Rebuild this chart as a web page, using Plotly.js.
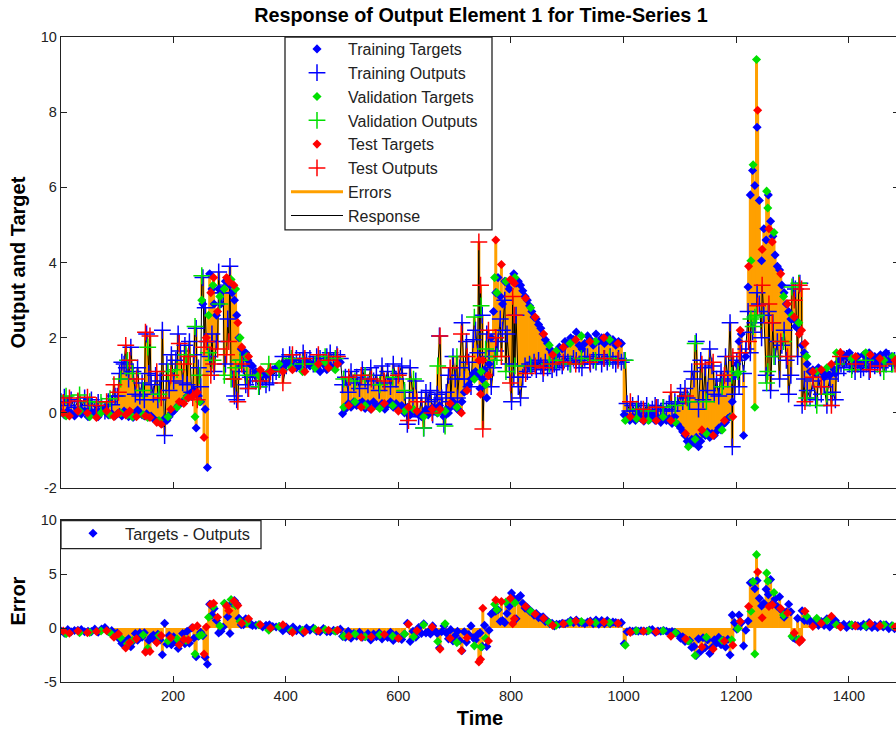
<!DOCTYPE html>
<html><head><meta charset="utf-8">
<script src="https://cdn.plot.ly/plotly-3.0.1.min.js"></script>
<style>html,body{margin:0;padding:0;overflow:hidden;background:#fff}</style>
</head><body><div id="plot" style="width:900px;height:729px"></div>
<script>
const trainTime=[1,7,13,19,25,31,37,43,49,55,61,67,73,79,85,91,97,
101,105,109,113,117,121,125,129,133,137,141,145,149,153,157,161,165,169,173,177,
181,185,189,193,197,201,205,209,213,217,221,225,229,233,237,241,245,249,253,257,
261,265,269,273,277,281,285,289,293,297,301,305,309,313,317,321,325,329,333,337,
341,347,353,359,365,371,377,383,389,395,401,407,413,419,425,431,437,443,449,455,461,467,473,479,485,491,497,
501,506,511,516,521,526,531,536,541,546,551,556,561,566,571,576,581,586,591,596,601,606,611,616,621,626,631,636,
641,645,649,653,657,661,665,669,673,677,681,685,689,693,697,701,705,709,713,717,
721,725,729,733,737,741,745,749,753,757,761,765,769,773,777,781,785,789,793,797,
801,805,809,813,817,821,825,829,833,837,841,845,849,853,857,861,865,869,873,877,
881,886,891,896,901,906,911,916,921,926,931,936,941,946,951,956,961,966,971,976,981,986,991,996,
1001,1006,1011,1016,1021,1026,1031,1036,1041,1046,1051,1056,1061,1066,1071,1076,1081,1086,1091,1096,
1101,1105,1109,1113,1117,1121,1125,1129,1133,1137,1141,1145,1149,1153,1157,1161,1165,1169,1173,1177,
1181,1185,1189,1193,1197,1201,1205,1209,1213,1217,1221,1225,1229,1233,1237,1241,1245,1249,1253,1257,
1261,1265,1269,1273,1277,1281,1285,1289,1293,1297,1301,1305,1309,1313,1317,
1321,1326,1331,1336,1341,1346,1351,1356,1361,1366,1371,1376,1381,1386,1391,1396,1401,1406,1411,1416,1421,1426,1431,1436,1441,1446,1451,1456,1461,1466,1471,1476,1481,1486];
const trainTarget=[0.02,-0.05,0.05,0,-0.08,0.08,-0.03,0.05,-0.1,0.02,0,-0.1,0.08,0.1,-0.05,-0.02,-0.08,
-0.02,0.02,-0.08,0.05,0,-0.1,0.02,-0.12,0,0.08,0,-0.05,-0.08,-0.02,-0.1,-0.08,-0.15,-0.2,-0.22,-0.25,
-0.28,-0.15,-0.2,-0.1,0,0.05,0.12,0.2,0.25,0.3,0.35,0.45,0.5,0.55,0.6,-0.4,0.45,0.3,2.9,0.1,
-1.45,3.7,3.3,2.9,2.6,3.3,2.9,3.3,3.5,3.55,3.4,3.2,3,2.6,2,1.7,1.55,1.6,1.4,1.3,
1.25,1.1,1,1.05,1,1.1,1.15,1.2,1.3,1.25,1.35,1.3,1.4,1.2,1.3,1.15,1.35,1.25,1.3,1.2,1.1,1.3,1.15,1.25,1.2,1.3,1.35,
-0.02,0.1,0.25,0.15,0.3,0.2,0.25,0.3,0.12,0.25,0.1,0.3,0.2,0.15,0.25,0.1,0.22,0.3,0.15,0.25,0.1,0.2,0,0.15,-0.05,0.1,0,-0.05,
-0.1,0,0.1,-0.05,0.05,0.15,0.1,0,0.2,0.05,-0.1,0.1,0,0.15,0.3,0.2,0.1,0.05,0.3,0.55,
0.6,0.75,0.9,1.05,1.1,1,0.65,0.9,1.15,0.4,1.3,2,2.7,3.2,3.6,3.1,2.9,3.5,3.45,3.3,
3.55,3.7,3.45,3.5,3.4,3.25,3.1,3,2.85,2.7,2.55,2.5,2.35,2.25,2.1,1.95,1.85,1.7,1.6,1.5,
1.55,1.75,1.7,1.9,1.85,2,1.95,2.15,1.8,1.7,1.85,2.05,1.95,1.8,2.1,1.9,2,1.85,2.05,1.9,1.95,1.8,1.9,1.85,
-0.05,-0.1,-0.2,-0.1,-0.2,-0.05,-0.15,-0.22,-0.1,-0.18,-0.05,-0.2,-0.12,-0.25,-0.08,-0.2,-0.15,-0.28,-0.1,-0.3,
-0.4,-0.5,-0.6,-0.75,-0.85,-0.7,-0.8,-0.65,-0.9,-0.75,-0.55,-0.6,-0.5,-0.65,-0.55,-0.6,-0.5,-0.4,-0.45,-0.3,
-0.25,-0.15,-0.1,0.3,1,1.3,1.9,2.1,-0.6,1.5,3.35,5.8,6.45,6.05,7.6,5.65,4.05,4.9,4.6,5.8,
5.1,4.7,4.2,3.9,3.8,3.4,3.2,2.9,2.7,2.5,2.5,2.3,2.4,2.2,1.8,
1.6,1.3,1.1,1.15,1.05,1.2,1.1,0.95,1.05,1,1.2,1.05,1.35,1.45,1.55,1.5,1.6,1.45,1.35,1.5,1.3,1.55,1.4,1.6,1.45,1.5,1.35,1.55,1.45,1.6,1.4,1.5,1.35,1.45];
const trainOutput=[0.3,0.42,0.2,0.35,0.15,0.3,0.12,0.4,0.2,0.35,0.1,0.28,0.18,0.05,0.3,0.22,0.45,
0.45,1.05,1.35,1.3,1.2,0.9,1.75,1.1,0.5,1.2,0.45,0.8,0.35,2.1,1.05,0.75,0.5,1,0.35,0.85,
2.2,-0.6,1.3,0.6,1.55,0.85,1.4,2.1,1.65,0.8,1.8,0.75,1.9,0.55,1.55,2.25,1.2,0.7,3.6,2.8,
1.9,1.5,2.1,1.1,1.9,3.75,3.2,3.2,1.3,2.5,3.9,0.9,0.45,0.35,1.1,1.4,1.25,0.75,0.65,0.95,
1,0.85,0.7,0.95,0.75,0.8,1,1.1,1.15,1.5,1.25,1.55,1.3,1.45,1.4,1.6,1.35,1.45,1.3,1.5,1.45,1.35,1.5,1.6,1.4,1.55,1.45,
0.75,0.95,0.55,1.1,0.8,0.95,0.65,1.15,0.9,0.75,1.2,0.85,1,0.6,1.25,0.8,1.1,0.7,1.3,0.9,1.05,1.25,0.55,-0.3,1.2,0.4,0.85,-0.1,
0.4,-0.4,0.55,0.3,0.6,-0.05,0.35,0.5,2.05,0.4,-0.3,0.55,1,0.3,1.5,0.9,0.4,1.2,2.4,0.9,
1.9,1.35,0.7,1.95,2.2,1.6,1.1,2.6,0.9,2.1,1.5,0.7,1.2,1.65,1.9,2.5,2.2,3,2.1,1.3,
0.3,0.95,2.6,0.7,0.4,0.95,1.25,1.1,1.3,1.2,1.35,1.15,1.4,1.25,1.05,1.35,1.2,1.3,1.15,1.3,
1.2,1.4,1.25,1.5,1.35,1.3,1.45,1.4,1.3,1.2,1.45,1.5,1.3,1.4,1.35,1.55,1.3,1.45,1.35,1.5,1.4,1.3,1.45,1.35,
1.4,0.25,0.05,0.2,0.05,0.25,0.1,0.05,0.2,0,0.1,0.2,0.15,0.05,0.15,0.1,0.25,0.05,0.3,0.25,
0.55,0.3,0.65,0.4,0.3,1.1,0.9,1.9,0.1,1.4,0.35,1.2,0.6,1.7,1.25,0.5,0.9,0.45,1.1,0.85,
1.5,0.9,2.4,-0.9,0.5,1.4,0.7,1.6,1.05,1.7,2.7,1.6,2.15,2.4,3.2,2.9,2,2.6,1,2.7,
0.6,2.4,1.5,1.9,0.9,1.8,2.2,1.4,0.5,1,3.4,3.3,1.5,3.45,0.2,
0.9,0.6,0.4,0.85,0.35,0.95,0.5,0.7,0.2,0.9,0.55,0.35,1.05,1.3,1.2,1.45,1.3,1.25,1.1,1.3,1.15,1.2,1.3,1.1,1.4,1.25,1.3,1.2,1.35,1.3,1.45,1.3,1.4,1.25];

const valTime=[10,34,52,72,88,107,119,128,147,155,175,191,207,223,239,247,251,263,271,283,291,303,311,319,331,
352,370,388,410,430,452,470,488,503,523,541,567,590,611,627,645,670,683,704,735,747,755,771,775,791,807,835,868,880,
905,925,950,975,1003,1023,1044,1070,1092,1115,1127,1147,1175,1192,1203,1226,1230,1233,1236,1254,1256,1267,1284,1299,1311,
1325,1343,1361,1378,1405,1430,1462,1478];
const valTarget=[-0.08,0.05,-0.1,0,-0.05,0,-0.05,-0.1,-0.05,-0.12,-0.2,-0.1,0.15,0.4,-0.1,0.3,3,2.6,3.4,3.1,3.3,3.55,3.3,2,1.5,
1,1.1,1.3,1.2,1.1,1.2,1.35,1.15,0.15,0.3,0.2,0.12,0.2,0.05,0.1,-0.1,0,0.05,0.15,0.9,1.1,0.75,3.6,3.2,3.5,3.6,2.8,1.8,1.65,
1.85,2.05,1.9,1.95,-0.2,-0.15,-0.2,-0.1,-0.25,-0.9,-0.7,-0.55,-0.45,-0.1,1.05,4.05,6.6,0.15,9.4,5.9,5.45,4.8,3.1,2.6,2.4,
1.5,1.1,1.2,1.6,1.45,1.6,1.4,1.5];
const valOutput=[0.45,0.48,0.3,0.28,0.38,0.9,1.4,1.05,0.6,1.75,0.5,1.1,1.15,1.55,2.3,1,3.65,1.6,1.4,2.9,1,0.9,1.2,1.4,1,
0.7,1.3,1.15,1.45,1.3,1.3,1.5,1.45,0.9,0.85,1,0.75,0.95,0.6,0.9,-0.4,1.25,-0.35,1.5,2.55,2.85,1.7,1.4,1.5,1.1,1.25,1.25,1.3,1.4,
1.3,1.45,1.4,1.45,1.4,0.1,0.05,0.15,0.2,0.3,1.85,0.3,0.7,1,1.1,2.5,2.3,2.55,2.6,0.8,1.1,1.5,1.9,3.35,3.45,
0.4,0.2,0.5,1.3,1.15,1.4,1.1,1.3];

const testTime=[5,16,31,48,64,82,95,103,116,123,135,151,159,171,179,196,211,219,227,235,243,255,259,267,272,279,295,299,308,315,322,334,
355,373,395,412,434,458,476,492,512,534,552,575,600,618,633,660,674,692,712,722,743,746,750,760,773,783,799,803,806,826,843,858,874,
893,915,940,965,990,1012,1035,1058,1084,1110,1139,1159,1179,1194,1207,1222,1238,1246,1258,1264,1279,1291,1303,1312,1316,
1322,1336,1351,1369,1385,1412,1438,1455,1482];
const testTarget=[0,-0.08,0.05,0,-0.12,0.05,-0.1,0,-0.05,0.05,-0.1,-0.08,-0.12,-0.25,-0.3,0.1,0.3,0.25,0.4,0.45,0.55,-0.65,2,3.2,3.6,2.7,3.6,3.5,3.4,2.4,1.75,1.5,
1.15,1.1,1.1,1.15,1.1,1.3,1.2,1.3,0.2,0.15,0.1,0.25,0.05,0.15,0.05,0.1,0.1,0.25,0,0.6,1.4,0.5,1.4,1,4.6,3.95,3.55,3.5,3.45,3.05,2.55,2.1,1.55,
1.75,1.95,1.9,2,1.85,-0.1,-0.2,-0.2,-0.2,-0.55,-0.45,-0.6,-0.2,-0.1,2.2,3.9,8.05,4.35,4.9,4.55,3.7,2.9,2.55,2.1,2.2,
1.85,1.1,1.15,1.3,1.6,1.5,1.55,1.45,1.4];
const testOutput=[0.28,0.4,0.32,0.42,0.2,0.3,0.75,0.55,1.8,1.4,0.9,2.15,2.05,1.1,0.4,1,1.85,1.3,1.5,0.4,0.35,1.75,1.9,1,1.3,1.7,1.55,1.9,0.9,0.3,1.3,0.65,
0.85,1.1,0.8,1.55,1.45,1.55,1.4,1.5,0.95,1,0.9,0.85,1,-0.2,0.3,0,2.05,1.2,2.1,1.5,4.55,3.4,-0.43,2.2,2,1.5,0.8,3.1,2.6,1.05,1.25,1.2,1.3,
1.35,1.3,1.35,1.45,1.4,0.3,0.1,0.15,0.55,0.45,1.3,1.35,1,1.5,1.6,1.9,2.85,3.4,2.9,2.4,1.9,1.5,3,3.4,3.3,
0.3,0.95,0.7,0.2,1.5,1.3,1.15,1.25,1.3];

const xTicks=[200,400,600,800,1000,1200,1400];
const yTicks=[-2,0,2,4,6,8,10];
const yTickText=['-2','0','2','4','6','8','10'];
const errTicks=[-5,0,5,10];
const errTickText=['-5','0','5','10'];
const titleText='Response of Output Element 1 for Time-Series 1';
const seriesNames=['Training Targets','Training Outputs','Validation Targets','Validation Outputs','Test Targets','Test Outputs','Errors','Response'];
const BLUE='#0000ff',GREEN='#00e000',RED='#ff0000',ORANGE='#ffa000',INK='#222222';
const FONT='"Liberation Sans",Arial,sans-serif';

const diff=(a,b)=>a.map((v,i)=>v-b[i]);
const trainErr=diff(trainTarget,trainOutput),valErr=diff(valTarget,valOutput),testErr=diff(testTarget,testOutput);
const allTime=[...trainTime,...valTime,...testTime];
const allTarget=[...trainTarget,...valTarget,...testTarget];
const allOutput=[...trainOutput,...valOutput,...testOutput];
const allErr=[...trainErr,...valErr,...testErr];
const order=allTime.map((_,i)=>i).sort((a,b)=>allTime[a]-allTime[b]);

const stemX=[],stemY=[],stem0X=[],stem0Y=[];
order.forEach(i=>{
  stemX.push(allTime[i],allTime[i],null);stemY.push(allTarget[i],allOutput[i],null);
  stem0X.push(allTime[i],allTime[i],null);stem0Y.push(0,allErr[i],null);
});

const dia=(c)=>({symbol:'diamond',size:7,color:c,line:{width:0}});
const plus=(c)=>({symbol:'cross-thin-open',size:12,color:c,line:{width:1.5,color:c}});
const mk=(n,x,y,m,rank)=>({type:'scatter',mode:'markers',name:n,x,y,marker:m,xaxis:'x',yaxis:'y',legendgroup:n,legendrank:rank,cliponaxis:true});
const traces=[
 {type:'scatter',mode:'lines',name:seriesNames[6],x:stemX,y:stemY,line:{color:ORANGE,width:3},connectgaps:false,legendgroup:seriesNames[6],legendrank:7},
 {type:'scatter',mode:'lines',name:seriesNames[7],x:order.map(i=>allTime[i]),y:order.map(i=>allOutput[i]),line:{color:'#000',width:1},legendgroup:seriesNames[7],legendrank:8},
 mk(seriesNames[0],trainTime,trainTarget,dia(BLUE),1),
 mk(seriesNames[1],trainTime,trainOutput,plus(BLUE),2),
 mk(seriesNames[2],valTime,valTarget,dia(GREEN),3),
 mk(seriesNames[3],valTime,valOutput,plus(GREEN),4),
 mk(seriesNames[4],testTime,testTarget,dia(RED),5),
 mk(seriesNames[5],testTime,testOutput,plus(RED),6),
 {type:'scatter',mode:'lines',x:stem0X,y:stem0Y,line:{color:ORANGE,width:3},xaxis:'x2',yaxis:'y2',showlegend:false},
 {type:'scatter',mode:'markers',name:'Targets - Outputs',x:trainTime,y:trainErr,marker:dia(BLUE),xaxis:'x2',yaxis:'y2',legend:'legend2'},
 {type:'scatter',mode:'markers',x:valTime,y:valErr,marker:dia(GREEN),xaxis:'x2',yaxis:'y2',showlegend:false},
 {type:'scatter',mode:'markers',x:testTime,y:testErr,marker:dia(RED),xaxis:'x2',yaxis:'y2',showlegend:false}
];
const H=645.5, W=838;
const ax={showgrid:false,zeroline:false,showline:true,linecolor:INK,linewidth:1.3,mirror:'ticks',ticks:'inside',ticklen:6,tickcolor:INK,tickwidth:1,
  tickfont:{family:FONT,size:14.5,color:INK}};
const titleFont={family:FONT,size:20,color:'#000'};
const box=(x0,x1,yTop,yBot)=>({type:'rect',xref:'paper',yref:'paper',layer:'above',fillcolor:'#fff',line:{color:INK,width:1.3},
  x0:(x0-61)/W,x1:(x1-61)/W,y0:(682.5-yBot)/H,y1:(682.5-yTop)/H});
const layout={
  width:900,height:729,paper_bgcolor:'#fff',plot_bgcolor:'#fff',showlegend:true,
  margin:{l:61,r:1,t:37,b:46.5,pad:0},
  title:{text:'<b>'+titleText+'</b>',x:481/900,xanchor:'center',y:1-15/729,yanchor:'middle',font:{family:FONT,size:19.8,color:'#000'}},
  xaxis:{...ax,domain:[0,1],range:[1,1489],tickvals:xTicks,showticklabels:false,anchor:'y'},
  yaxis:{...ax,domain:[194/H,1],range:[-2,10],tickvals:yTicks,ticktext:yTickText,anchor:'x',
    title:{text:'<b>Output and Target</b>',standoff:9,font:titleFont}},
  xaxis2:{...ax,domain:[0,1],range:[1,1489],tickvals:xTicks,anchor:'y2',
    title:{text:'<b>Time</b>',standoff:8,font:titleFont}},
  yaxis2:{...ax,domain:[0,162/H],range:[-5,10],tickvals:errTicks,ticktext:errTickText,anchor:'x2',
    title:{text:'<b>Error</b>',standoff:9,font:titleFont}},
  shapes:[box(285,492,37,230),box(61,261,521,549)],
  legend:{x:225/W,xanchor:'left',y:1+5/H,yanchor:'top',bgcolor:'rgba(0,0,0,0)',borderwidth:0,
    traceorder:'grouped',tracegroupgap:0,itemwidth:52,itemclick:false,
    font:{family:FONT,size:16,color:INK}},
  legend2:{x:0,xanchor:'left',y:(162+4)/H,yanchor:'top',bgcolor:'rgba(0,0,0,0)',borderwidth:0,itemwidth:54,
    font:{family:FONT,size:16.3,color:INK}}
};
Plotly.newPlot('plot',traces,layout,{displayModeBar:false,staticPlot:true});
</script></body></html>
